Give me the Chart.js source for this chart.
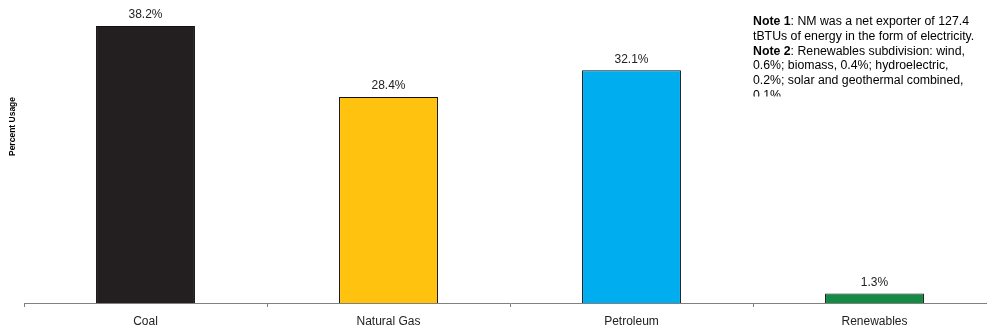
<!DOCTYPE html>
<html>
<head>
<meta charset="utf-8">
<script src="https://cdn.jsdelivr.net/npm/chart.js@4.4.1/dist/chart.umd.min.js"></script>
<style>
  html, body { margin: 0; padding: 0; background: #fff; overflow: hidden; }
  #wrap { position: absolute; left: 0; top: 0; width: 1000px; height: 330px; }
</style>
</head>
<body>
<div id="wrap"><canvas id="energyChart"></canvas></div>
<script>
// energy sources and their share of total usage (%)
const categories = ['Coal', 'Natural Gas', 'Petroleum', 'Renewables'];
const usage = [38.2, 28.4, 32.1, 1.3];
const barColors = ['#231f20', '#ffc20e', '#00aeef', '#148a45'];

const noteLines = [
    [['Note 1', true], [': NM was a net exporter of 127.4', false]],
    [['tBTUs of energy in the form of electricity.', false]],
    [['Note 2', true], [': Renewables subdivision: wind,', false]],
    [['0.6%; biomass, 0.4%; hydroelectric,', false]],
    [['0.2%; solar and geothermal combined,', false]],
    [['0.1%', false]]
];

const FONT = '"Liberation Sans", Arial, sans-serif';

// value labels above bars, axis title and the notes box
const extrasPlugin = {
    id: 'extras',
    afterDatasetsDraw(chart) {
        const ctx = chart.ctx;
        const meta = chart.getDatasetMeta(0);
        ctx.save();
        ctx.fillStyle = '#222';
        ctx.font = '12px ' + FONT;
        ctx.textAlign = 'center';
        ctx.textBaseline = 'middle';
        meta.data.forEach(function (bar, i) {
            ctx.fillText(usage[i].toFixed(1) + '%', bar.x, bar.y - 11);
        });

        // y axis title
        ctx.save();
        ctx.translate(13, 126.5);
        ctx.rotate(-Math.PI / 2);
        ctx.font = 'bold 8.5px ' + FONT;
        ctx.fillStyle = '#000';
        ctx.fillText('Percent Usage', 0, 0);
        ctx.restore();

        // notes, clipped at the bottom of the box
        ctx.beginPath();
        ctx.rect(740, 0, 260, 96.5);
        ctx.clip();
        ctx.textAlign = 'left';
        ctx.textBaseline = 'alphabetic';
        ctx.fillStyle = '#000';
        noteLines.forEach(function (line, li) {
            let x = 753;
            const y = 25 + li * 14.8;
            line.forEach(function (part) {
                ctx.font = (part[1] ? 'bold ' : '') + '12.3px ' + FONT;
                ctx.fillText(part[0], x, y);
                x += ctx.measureText(part[0]).width;
            });
        });
        ctx.restore();
    }
};

new Chart(document.getElementById('energyChart').getContext('2d'), {
    type: 'bar',
    data: {
        labels: categories,
        datasets: [{
            data: usage,
            backgroundColor: barColors,
            borderColor: '#111',
            borderWidth: 1,
            borderSkipped: 'bottom',
            categoryPercentage: 1,
            barPercentage: 0.407
        }]
    },
    options: {
        responsive: true,
        maintainAspectRatio: false,
        animation: false,
        layout: { padding: { left: 24, right: 4, top: 13, bottom: 0 } },
        plugins: {
            legend: { display: false },
            tooltip: { enabled: false }
        },
        scales: {
            y: {
                display: false,
                min: 0,
                max: 40
            },
            x: {
                afterFit(scale) { scale.height = 27; },
                grid: {
                    offset: true,
                    drawOnChartArea: false,
                    drawTicks: true,
                    tickLength: 4,
                    color: '#808080'
                },
                border: { display: true, color: '#808080', width: 1 },
                ticks: {
                    padding: 7,
                    color: '#222',
                    font: { family: FONT, size: 12 }
                }
            }
        }
    },
    plugins: [extrasPlugin]
});
</script>
</body>
</html>
